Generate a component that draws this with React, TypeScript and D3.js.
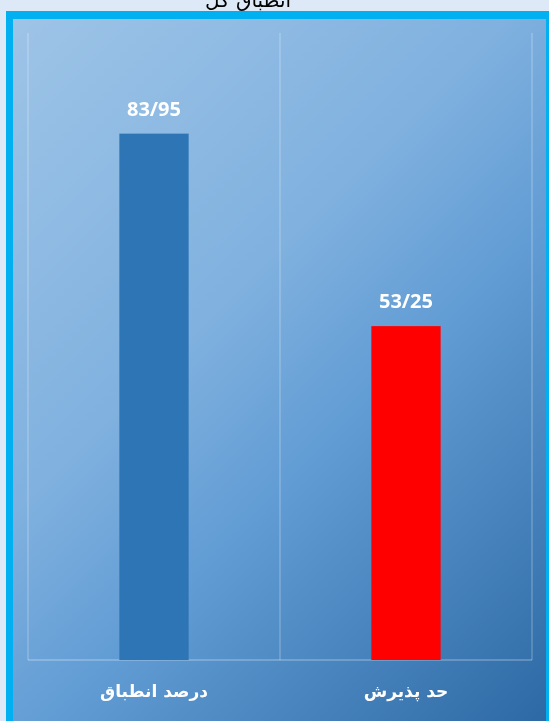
import React from "react";
import * as d3 from "d3";

const categories = ["درصد انطباق", "حد پذیرش"];
const values = [83.95, 53.25];
const valueLabels = ["83/95", "53/25"];
const barColors = ["#2e75b6", "#ff0000"];
const title = "انطباق کل";

const W = 549;
const H = 721;

export default function App() {
  const plot = { left: 28, right: 532, top: 33, bottom: 660 };
  const x = d3
    .scaleBand<string>()
    .domain(categories)
    .range([plot.left, plot.right])
    .paddingInner(0)
    .paddingOuter(0);
  const y = d3.scaleLinear().domain([0, 100]).range([plot.bottom, plot.top]);
  const bw = x.bandwidth() * 0.275;
  const gridX = [plot.left, ...categories.map((c) => (x(c) as number) + x.bandwidth())];

  return (
    <div style={{ position: "fixed", left: 0, top: 0, width: W, height: H }}>
      <svg width={W} height={H} style={{ display: "block" }}>
        <defs>
          <linearGradient
            id="bg"
            gradientUnits="userSpaceOnUse"
            x1={13}
            y1={19}
            x2={630}
            y2={636}
          >
            <stop offset="0" stopColor="#9ec4e7" />
            <stop offset="0.4" stopColor="#80b1df" />
            <stop offset="0.6" stopColor="#619cd4" />
            <stop offset="1" stopColor="#2d69a4" />
          </linearGradient>
        </defs>
        <rect x={0} y={0} width={W} height={H} fill="#dde9f6" />
        <text
          x={248}
          y={7}
          textAnchor="middle"
          fontFamily="'DejaVu Sans', sans-serif"
          fontSize={20}
          fill="#000"
        >
          {title}
        </text>
        <rect x={6} y={11} width={W} height={H} fill="#00b0f0" />
        <rect x={13} y={19} width={533} height={H} fill="url(#bg)" />
        {gridX.map((gx, i) => (
          <line
            key={i}
            x1={gx}
            x2={gx}
            y1={plot.top}
            y2={plot.bottom}
            stroke="rgba(255,255,255,0.35)"
            strokeWidth={1}
          />
        ))}
        <line
          x1={plot.left}
          x2={plot.right}
          y1={plot.bottom}
          y2={plot.bottom}
          stroke="rgba(255,255,255,0.45)"
          strokeWidth={1}
        />
        {categories.map((c, i) => {
          const cx = (x(c) as number) + x.bandwidth() / 2;
          return (
            <g key={c}>
              <rect
                x={cx - bw / 2}
                y={y(values[i])}
                width={bw}
                height={plot.bottom - y(values[i])}
                fill={barColors[i]}
              />
              <text
                x={cx}
                y={y(values[i]) - 18}
                textAnchor="middle"
                fontFamily="'Open Sans', 'Noto Sans', sans-serif"
                fontWeight="bold"
                fontSize={20}
                fill="#fff"
              >
                {valueLabels[i]}
              </text>
              <text
                x={cx}
                y={697}
                textAnchor="middle"
                fontFamily="'DejaVu Sans', sans-serif"
                fontWeight="bold"
                fontSize={17}
                fill="#fff"
                direction="rtl"
              >
                {c}
              </text>
            </g>
          );
        })}
      </svg>
    </div>
  );
}
